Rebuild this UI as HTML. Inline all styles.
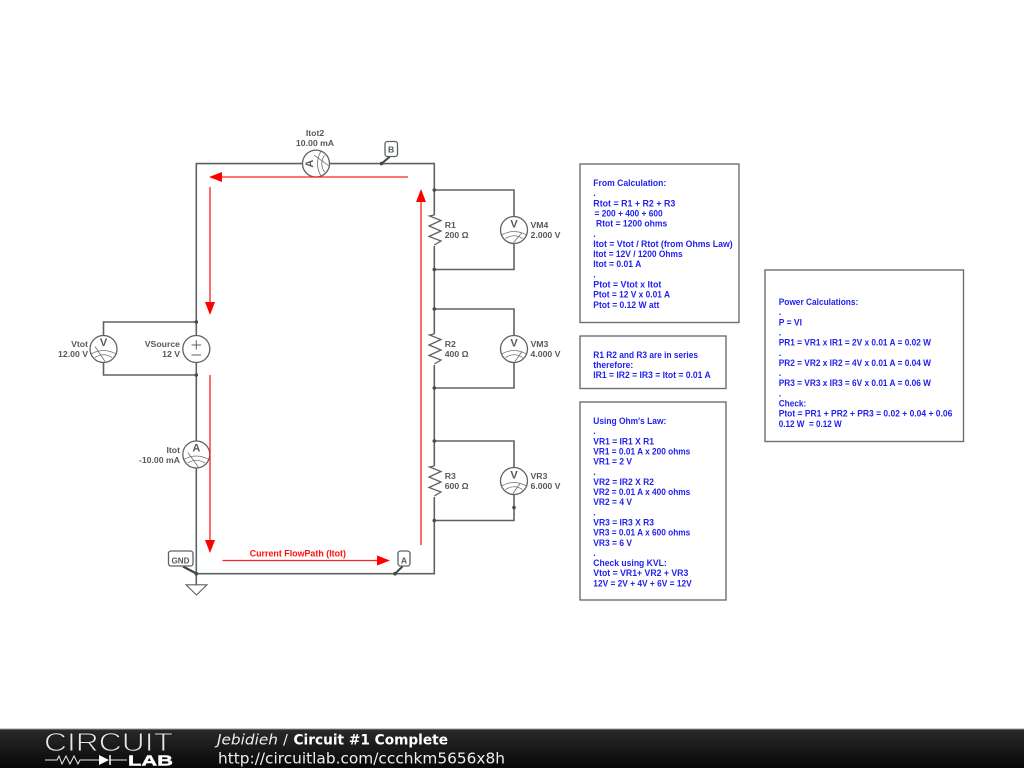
<!DOCTYPE html>
<html>
<head>
<meta charset="utf-8">
<style>
html,body{margin:0;padding:0;background:#fff;width:1024px;height:768px;overflow:hidden}
svg{display:block;position:absolute;left:0;top:0;filter:blur(.3px)}
.w{fill:none;stroke:#5d6363;stroke-width:1.6}
.t{font-family:"Liberation Sans",sans-serif;font-weight:bold;font-size:8.7px;fill:#555a5a}
.b{font-family:"Liberation Sans",sans-serif;font-weight:bold;font-size:9px;fill:#2222ee}
.box{fill:#fff;stroke:#6a7070;stroke-width:1.4}
.r{stroke:#ff2020;stroke-width:1.3;fill:none}
.rf{fill:#ff0000}
.d{fill:#454b4b}
.m{fill:#fff;stroke:#5d6363;stroke-width:1.3}
.a{fill:none;stroke:#6a7070;stroke-width:.8}
.l{font-family:"Liberation Sans",sans-serif;font-weight:bold;font-size:11px;fill:#555a5a;text-anchor:middle}
.e{text-anchor:end}
.tag{fill:#fff;stroke:#5d6363;stroke-width:1.3}
</style>
</head>
<body>
<svg width="1024" height="768" viewBox="0 0 1024 768" xmlns="http://www.w3.org/2000/svg">
<defs>
<linearGradient id="fg" x1="0" y1="0" x2="0" y2="1"><stop offset="0" stop-color="#2a2a2a"/><stop offset="1" stop-color="#070707"/></linearGradient>
<g id="arcs">
<path class="a" d="M-12.500 5Q0 -2 12.500 5M-8.500 8.500Q0 3 8.500 8.500"/>
</g>
</defs>

<!-- wires -->
<path class="w" d="M196.300 322V163.600H434.300V573.700H196.300V375"/>
<path class="w" d="M196.300 322V349M196.300 375V349"/>
<path class="w" d="M196.300 322H103.500V375H196.300"/>
<path class="w" d="M434.300 190H514V269.500H434.300"/>
<path class="w" d="M434.300 309H514V388H434.300"/>
<path class="w" d="M434.300 441H514V520.500H434.300"/>
<path class="w" d="M196.300 573.700V584.500"/>
<path d="M186 584.800H207L196.500 595Z" fill="#fff" stroke="#5d6363" stroke-width="1.100"/>

<!-- resistors -->
<g fill="none" stroke="#5d6363" stroke-width="1.300">
<path fill="#fff" stroke="none" d="M428 215H442V246H428Z"/>
<path d="M434.300 215L429.500 216L441 220.500L429 226L441 231L429 236.500L441 241L434.300 245"/>
<path fill="#fff" stroke="none" d="M428 334H442V365H428Z"/>
<path d="M434.300 334L429.500 335L441 339.500L429 345L441 350L429 355.500L441 360L434.300 364"/>
<path fill="#fff" stroke="none" d="M428 466H442V497H428Z"/>
<path d="M434.300 466L429.500 467L441 471.500L429 477L441 482L429 487.500L441 492L434.300 496"/>
</g>

<!-- junction dots -->
<g class="d">
<circle cx="196.300" cy="322" r="1.800"/><circle cx="196.300" cy="375" r="1.800"/>
<circle cx="434.300" cy="190" r="1.800"/><circle cx="434.300" cy="269.500" r="1.800"/>
<circle cx="434.300" cy="309" r="1.800"/><circle cx="434.300" cy="388" r="1.800"/>
<circle cx="434.300" cy="441" r="1.800"/><circle cx="434.300" cy="520.500" r="1.800"/>
<circle cx="514" cy="507.500" r="1.800"/>
<circle cx="196.300" cy="573.700" r="1.800"/>
<circle cx="395" cy="573.700" r="1.800"/><circle cx="381.500" cy="163.600" r="1.800"/>
</g>

<!-- source -->
<circle class="m" cx="196.300" cy="349" r="13.500"/>
<path d="M191.500 345H201M196.300 340.300V349.500M191.500 355H201" fill="none" stroke="#5d6363" stroke-width="1"/>

<!-- meters -->
<g transform="translate(103.500 349)"><circle class="m" r="13.500"/><use href="#arcs"/><path class="a" d="M-8.500 -2.500L1.500 12.500"/><text class="l" y="-3">V</text></g>
<g transform="translate(196.300 454.500)"><circle class="m" r="13.500"/><use href="#arcs"/><path class="a" d="M-8.500 -2L2 12.500"/><text class="l" y="-3">A</text></g>
<g transform="translate(316 163.600) rotate(-90)"><circle class="m" r="13.500"/><use href="#arcs"/><path class="a" d="M8.500 -2L-2 12.500"/><text class="l" y="-3">A</text></g>
<g transform="translate(514 230)"><circle class="m" r="13.500"/><use href="#arcs"/><path class="a" d="M8 2.500L-0.500 12.500"/><text class="l" y="-2.700">V</text></g>
<g transform="translate(514 349)"><circle class="m" r="13.500"/><use href="#arcs"/><path class="a" d="M8 2.500L1 12.500"/><text class="l" y="-2.700">V</text></g>
<g transform="translate(514 481)"><circle class="m" r="13.500"/><use href="#arcs"/><path class="a" d="M6 2.500L-1 12.500"/><text class="l" y="-2.700">V</text></g>

<!-- tags -->
<path d="M381.500 163.600L390 156.500" stroke="#3f4545" stroke-width="2"/>
<rect class="tag" x="385" y="141.500" width="12.500" height="15" rx="2.500"/>
<text class="t" x="391.200" y="152.500" text-anchor="middle">B</text>
<path d="M395 573.700L402.500 566.500" stroke="#3f4545" stroke-width="2"/>
<rect class="tag" x="398" y="551" width="12" height="15" rx="2.500"/>
<text class="t" x="404" y="563.300" text-anchor="middle">A</text>
<path d="M196.300 573.500L183 566.500" stroke="#3f4545" stroke-width="2.400"/>
<rect class="tag" x="168.500" y="551" width="24.500" height="15" rx="2.500"/>
<text class="t" x="180.500" y="563.300" text-anchor="middle" textLength="18" lengthAdjust="spacingAndGlyphs">GND</text>

<!-- component labels -->
<text class="t e" x="88" y="347">Vtot</text><text class="t e" x="88" y="357">12.00 V</text>
<text class="t e" x="180" y="347">VSource</text><text class="t e" x="180" y="357">12 V</text>
<text class="t e" x="180" y="453">Itot</text><text class="t e" x="180" y="463">-10.00 mA</text>
<text class="t" x="315" y="136" text-anchor="middle">Itot2</text><text class="t" x="315" y="146" text-anchor="middle">10.00 mA</text>
<text class="t" x="444.700" y="228">R1</text><text class="t" x="444.700" y="238">200 Ω</text>
<text class="t" x="444.700" y="347">R2</text><text class="t" x="444.700" y="357">400 Ω</text>
<text class="t" x="444.700" y="479">R3</text><text class="t" x="444.700" y="489">600 Ω</text>
<text class="t" x="530.500" y="228">VM4</text><text class="t" x="530.500" y="238">2.000 V</text>
<text class="t" x="530.500" y="347">VM3</text><text class="t" x="530.500" y="357">4.000 V</text>
<text class="t" x="530.500" y="479">VR3</text><text class="t" x="530.500" y="489">6.000 V</text>

<!-- red path -->
<path class="r" d="M408 177H220"/><path class="rf" d="M209 177L222 172V182Z"/>
<path class="r" d="M210 187V304"/><path class="rf" d="M210 315L205 302H215Z"/>
<path class="r" d="M210 375V542"/><path class="rf" d="M210 553L205 540H215Z"/>
<path class="r" d="M222.500 560.500H379"/><path class="rf" d="M390 560.500L377 555.500V565.500Z"/>
<path class="r" d="M421 545V200"/><path class="rf" d="M421 189L416 202H426Z"/>
<text x="249.700" y="556.500" font-family="Liberation Sans, sans-serif" font-weight="bold" font-size="9" fill="#ff1010" textLength="96.300" lengthAdjust="spacingAndGlyphs">Current FlowPath (Itot)</text>

<!-- box 1 -->
<rect class="box" x="580" y="164" width="159" height="158.500"/>
<g class="b" lengthAdjust="spacingAndGlyphs">
<text x="593.300" y="186" textLength="73" lengthAdjust="spacingAndGlyphs">From Calculation:</text>
<text x="593.300" y="196">.</text>
<text x="593.300" y="206.300" textLength="82" lengthAdjust="spacingAndGlyphs">Rtot = R1 + R2 + R3</text>
<text x="594.500" y="216.500" textLength="68.200" lengthAdjust="spacingAndGlyphs">= 200 + 400 + 600</text>
<text x="596" y="226.700" textLength="71.300" lengthAdjust="spacingAndGlyphs">Rtot = 1200 ohms</text>
<text x="593.300" y="236.800">.</text>
<text x="593.300" y="247" textLength="139.400" lengthAdjust="spacingAndGlyphs">Itot = Vtot / Rtot (from Ohms Law)</text>
<text x="593.300" y="257" textLength="89.400" lengthAdjust="spacingAndGlyphs">Itot = 12V / 1200 Ohms</text>
<text x="593.300" y="267.200" textLength="48" lengthAdjust="spacingAndGlyphs">Itot = 0.01 A</text>
<text x="593.300" y="277.300">.</text>
<text x="593.300" y="287.500" textLength="68" lengthAdjust="spacingAndGlyphs">Ptot = Vtot x Itot</text>
<text x="593.300" y="297.700" textLength="76.700" lengthAdjust="spacingAndGlyphs">Ptot = 12 V x 0.01 A</text>
<text x="593.300" y="307.800" textLength="66" lengthAdjust="spacingAndGlyphs">Ptot = 0.12 W att</text>
</g>

<!-- box 2 -->
<rect class="box" x="580" y="336" width="146" height="52.500"/>
<g class="b">
<text x="593.300" y="358" textLength="104.700" lengthAdjust="spacingAndGlyphs">R1 R2 and R3 are in series</text>
<text x="593.300" y="368" textLength="40" lengthAdjust="spacingAndGlyphs">therefore:</text>
<text x="593.300" y="378.200" textLength="117.400" lengthAdjust="spacingAndGlyphs">IR1 = IR2 = IR3 = Itot = 0.01 A</text>
</g>

<!-- box 3 -->
<rect class="box" x="580" y="402" width="146" height="198"/>
<g class="b">
<text x="593.300" y="424" textLength="73" lengthAdjust="spacingAndGlyphs">Using Ohm's Law:</text>
<text x="593.300" y="434">.</text>
<text x="593.300" y="444.300" textLength="60.700" lengthAdjust="spacingAndGlyphs">VR1 = IR1 X R1</text>
<text x="593.300" y="454.500" textLength="97" lengthAdjust="spacingAndGlyphs">VR1 = 0.01 A x 200 ohms</text>
<text x="593.300" y="464.700" textLength="38.700" lengthAdjust="spacingAndGlyphs">VR1 = 2 V</text>
<text x="593.300" y="474.800">.</text>
<text x="593.300" y="485" textLength="60.700" lengthAdjust="spacingAndGlyphs">VR2 = IR2 X R2</text>
<text x="593.300" y="495" textLength="97" lengthAdjust="spacingAndGlyphs">VR2 = 0.01 A x 400 ohms</text>
<text x="593.300" y="505.200" textLength="38.700" lengthAdjust="spacingAndGlyphs">VR2 = 4 V</text>
<text x="593.300" y="515.300">.</text>
<text x="593.300" y="525.500" textLength="60.700" lengthAdjust="spacingAndGlyphs">VR3 = IR3 X R3</text>
<text x="593.300" y="535.700" textLength="97" lengthAdjust="spacingAndGlyphs">VR3 = 0.01 A x 600 ohms</text>
<text x="593.300" y="545.800" textLength="38.700" lengthAdjust="spacingAndGlyphs">VR3 = 6 V</text>
<text x="593.300" y="556">.</text>
<text x="593.300" y="566" textLength="73.400" lengthAdjust="spacingAndGlyphs">Check using KVL:</text>
<text x="593.300" y="576.200" textLength="95" lengthAdjust="spacingAndGlyphs">Vtot = VR1+ VR2 + VR3</text>
<text x="593.300" y="586.300" textLength="98.400" lengthAdjust="spacingAndGlyphs">12V = 2V + 4V + 6V = 12V</text>
</g>

<!-- box 4 -->
<rect class="box" x="765" y="270" width="198.500" height="171.500"/>
<g class="b">
<text x="778.700" y="305" textLength="79.600" lengthAdjust="spacingAndGlyphs">Power Calculations:</text>
<text x="778.700" y="315">.</text>
<text x="778.700" y="325.300" textLength="23.300" lengthAdjust="spacingAndGlyphs">P = VI</text>
<text x="778.700" y="335.500">.</text>
<text x="778.700" y="345.700" textLength="152.300" lengthAdjust="spacingAndGlyphs">PR1 = VR1 x IR1 = 2V x 0.01 A = 0.02 W</text>
<text x="778.700" y="355.800">.</text>
<text x="778.700" y="366" textLength="152.300" lengthAdjust="spacingAndGlyphs">PR2 = VR2 x IR2 = 4V x 0.01 A = 0.04 W</text>
<text x="778.700" y="376">.</text>
<text x="778.700" y="386.200" textLength="152.300" lengthAdjust="spacingAndGlyphs">PR3 = VR3 x IR3 = 6V x 0.01 A = 0.06 W</text>
<text x="778.700" y="396.300">.</text>
<text x="778.700" y="406.500" textLength="27.600" lengthAdjust="spacingAndGlyphs">Check:</text>
<text x="778.700" y="416.700" textLength="173.600" lengthAdjust="spacingAndGlyphs">Ptot = PR1 + PR2 + PR3 = 0.02 + 0.04 + 0.06</text>
<text x="778.700" y="426.800" textLength="63" lengthAdjust="spacingAndGlyphs" xml:space="preserve">0.12 W  = 0.12 W</text>
</g>

<!-- footer -->
<rect x="0" y="729" width="1024" height="39" fill="url(#fg)"/>
<rect x="0" y="728.500" width="1024" height="1" fill="#999"/>
<text x="44" y="751" font-family="Liberation Sans, sans-serif" font-size="26" fill="#e8e8e8" stroke="#1c1c1c" stroke-width=".9" textLength="129" lengthAdjust="spacingAndGlyphs">CIRCUIT</text>
<path d="M45 760H57L59 756L62 764L66 756L70 764L74 756L78 764L80 760H100" fill="none" stroke="#e8e8e8" stroke-width="1"/>
<path d="M110 760H127" stroke="#e8e8e8" stroke-width="1"/>
<path d="M99 755V765L109 760Z" fill="#fff"/><path d="M110 755V765" stroke="#fff" stroke-width="1.500"/>
<text x="128" y="765.500" font-family="Liberation Sans, sans-serif" font-weight="bold" font-size="14.500" fill="#fff" stroke="#fff" stroke-width=".4" textLength="45" lengthAdjust="spacingAndGlyphs">LAB</text>
<text x="217" y="744.500" font-family="DejaVu Sans, sans-serif" font-size="14.500" font-style="italic" fill="#eee" textLength="61" lengthAdjust="spacingAndGlyphs">Jebidieh</text>
<text x="283" y="744.500" font-family="DejaVu Sans, sans-serif" font-size="14.500" fill="#eee">/</text>
<text x="293.500" y="744.500" font-family="DejaVu Sans, sans-serif" font-size="14.500" font-weight="bold" fill="#fff" textLength="154.500" lengthAdjust="spacingAndGlyphs">Circuit #1 Complete</text>
<text x="218" y="763.500" font-family="DejaVu Sans, sans-serif" font-size="15.500" fill="#eee" textLength="287" lengthAdjust="spacingAndGlyphs">http://circuitlab.com/ccchkm5656x8h</text>
</svg>
</body>
</html>
